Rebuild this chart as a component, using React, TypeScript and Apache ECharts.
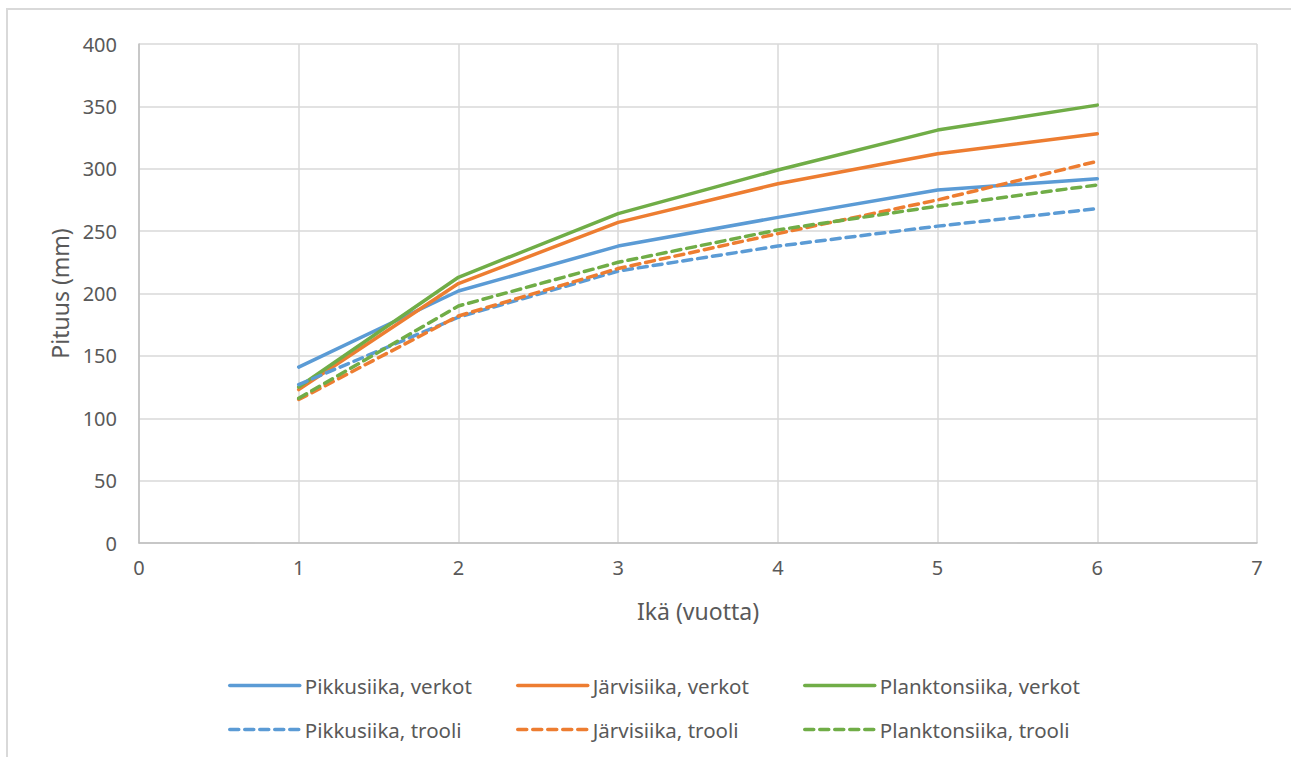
import React, { useEffect, useRef } from "react";
import * as echarts from "echarts";

const ages = [1, 2, 3, 4, 5, 6];
const seriesNames = [
  "Pikkusiika, verkot",
  "Järvisiika, verkot",
  "Planktonsiika, verkot",
  "Pikkusiika, trooli",
  "Järvisiika, trooli",
  "Planktonsiika, trooli",
];
const pikkuVerkot = [141, 202, 238, 261, 283, 292];
const jarviVerkot = [123, 208, 257, 288, 312, 328];
const planktonVerkot = [125, 213, 264, 299, 331, 351];
const pikkuTrooli = [127, 181, 218, 238, 254, 268];
const jarviTrooli = [115, 182, 220, 248, 275, 306];
const planktonTrooli = [116, 190, 225, 251, 270, 287];
const xTicks = [0, 1, 2, 3, 4, 5, 6, 7];
const yTicks = [0, 50, 100, 150, 200, 250, 300, 350, 400];

const seriesValues = [pikkuVerkot, jarviVerkot, planktonVerkot, pikkuTrooli, jarviTrooli, planktonTrooli];
const colors = ["#5B9BD5", "#ED7D31", "#70AD47", "#5B9BD5", "#ED7D31", "#70AD47"];
const dashed = [false, false, false, true, true, true];

const FONT = "Noto Sans";
const TXT = "#595959";

export default function App() {
  const ref = useRef<HTMLDivElement>(null);
  useEffect(() => {
    if (!ref.current) return;
    const chart = echarts.init(ref.current, undefined, { renderer: "svg" });
    const legendPos = [
      { left: 228, top: 675 },
      { left: 516, top: 675 },
      { left: 803, top: 675 },
      { left: 228, top: 719 },
      { left: 516, top: 719 },
      { left: 803, top: 719 },
    ];
    chart.setOption({
      animation: false,
      backgroundColor: "#ffffff",
      textStyle: { fontFamily: FONT },
      grid: { left: 139, right: 34, top: 44, bottom: 214, containLabel: false },
      xAxis: {
        type: "value",
        min: xTicks[0],
        max: xTicks[xTicks.length - 1],
        interval: 1,
        name: "Ikä (vuotta)",
        nameLocation: "middle",
        nameGap: 56,
        nameTextStyle: { color: TXT, fontSize: 23, fontFamily: FONT },
        axisLine: { show: true, lineStyle: { color: "#bfbfbf", width: 1.5 } },
        axisTick: { show: false },
        axisLabel: { color: TXT, fontSize: 20, fontFamily: FONT, margin: 14 },
        splitLine: { show: true, lineStyle: { color: "#d9d9d9", width: 1.5 } },
      },
      yAxis: {
        type: "value",
        min: yTicks[0],
        max: yTicks[yTicks.length - 1],
        interval: 50,
        name: "Pituus (mm)",
        nameLocation: "middle",
        nameGap: 68,
        nameTextStyle: { color: TXT, fontSize: 23, fontFamily: FONT },
        axisLine: { show: true, lineStyle: { color: "#bfbfbf", width: 1.5 } },
        axisTick: { show: false },
        axisLabel: { color: TXT, fontSize: 20, fontFamily: FONT, margin: 22 },
        splitLine: { show: true, lineStyle: { color: "#d9d9d9", width: 1.5 } },
      },
      legend: seriesNames.map((n, i) => ({
        data: [n],
        left: legendPos[i].left,
        top: legendPos[i].top,
        padding: 0,
        itemWidth: 70,
        itemHeight: 14,
        itemStyle: { opacity: 0 },
        lineStyle: { width: 3.5, cap: "round" },
        textStyle: { color: TXT, fontSize: 20.5, fontFamily: FONT },
        selectedMode: false,
      })),
      series: seriesNames.map((n, i) => ({
        name: n,
        type: "line",
        data: ages.map((a, j) => [a, seriesValues[i][j]]),
        symbol: "none",
        showSymbol: false,
        color: colors[i],
        lineStyle: {
          color: colors[i],
          width: 3.5,
          type: dashed[i] ? [9, 6] : "solid",
          cap: "round",
          join: "round",
        },
      })),
      graphic: [
        {
          type: "rect",
          shape: { x: 7, y: 9, width: 1400, height: 900 },
          style: { fill: "none", stroke: "#d9d9d9", lineWidth: 2 },
          silent: true,
          z: -10,
        },
      ],
    });
    return () => chart.dispose();
  }, []);
  return (
    <div
      ref={ref}
      style={{ position: "absolute", left: 0, top: 0, width: 1291, height: 757 }}
    />
  );
}
